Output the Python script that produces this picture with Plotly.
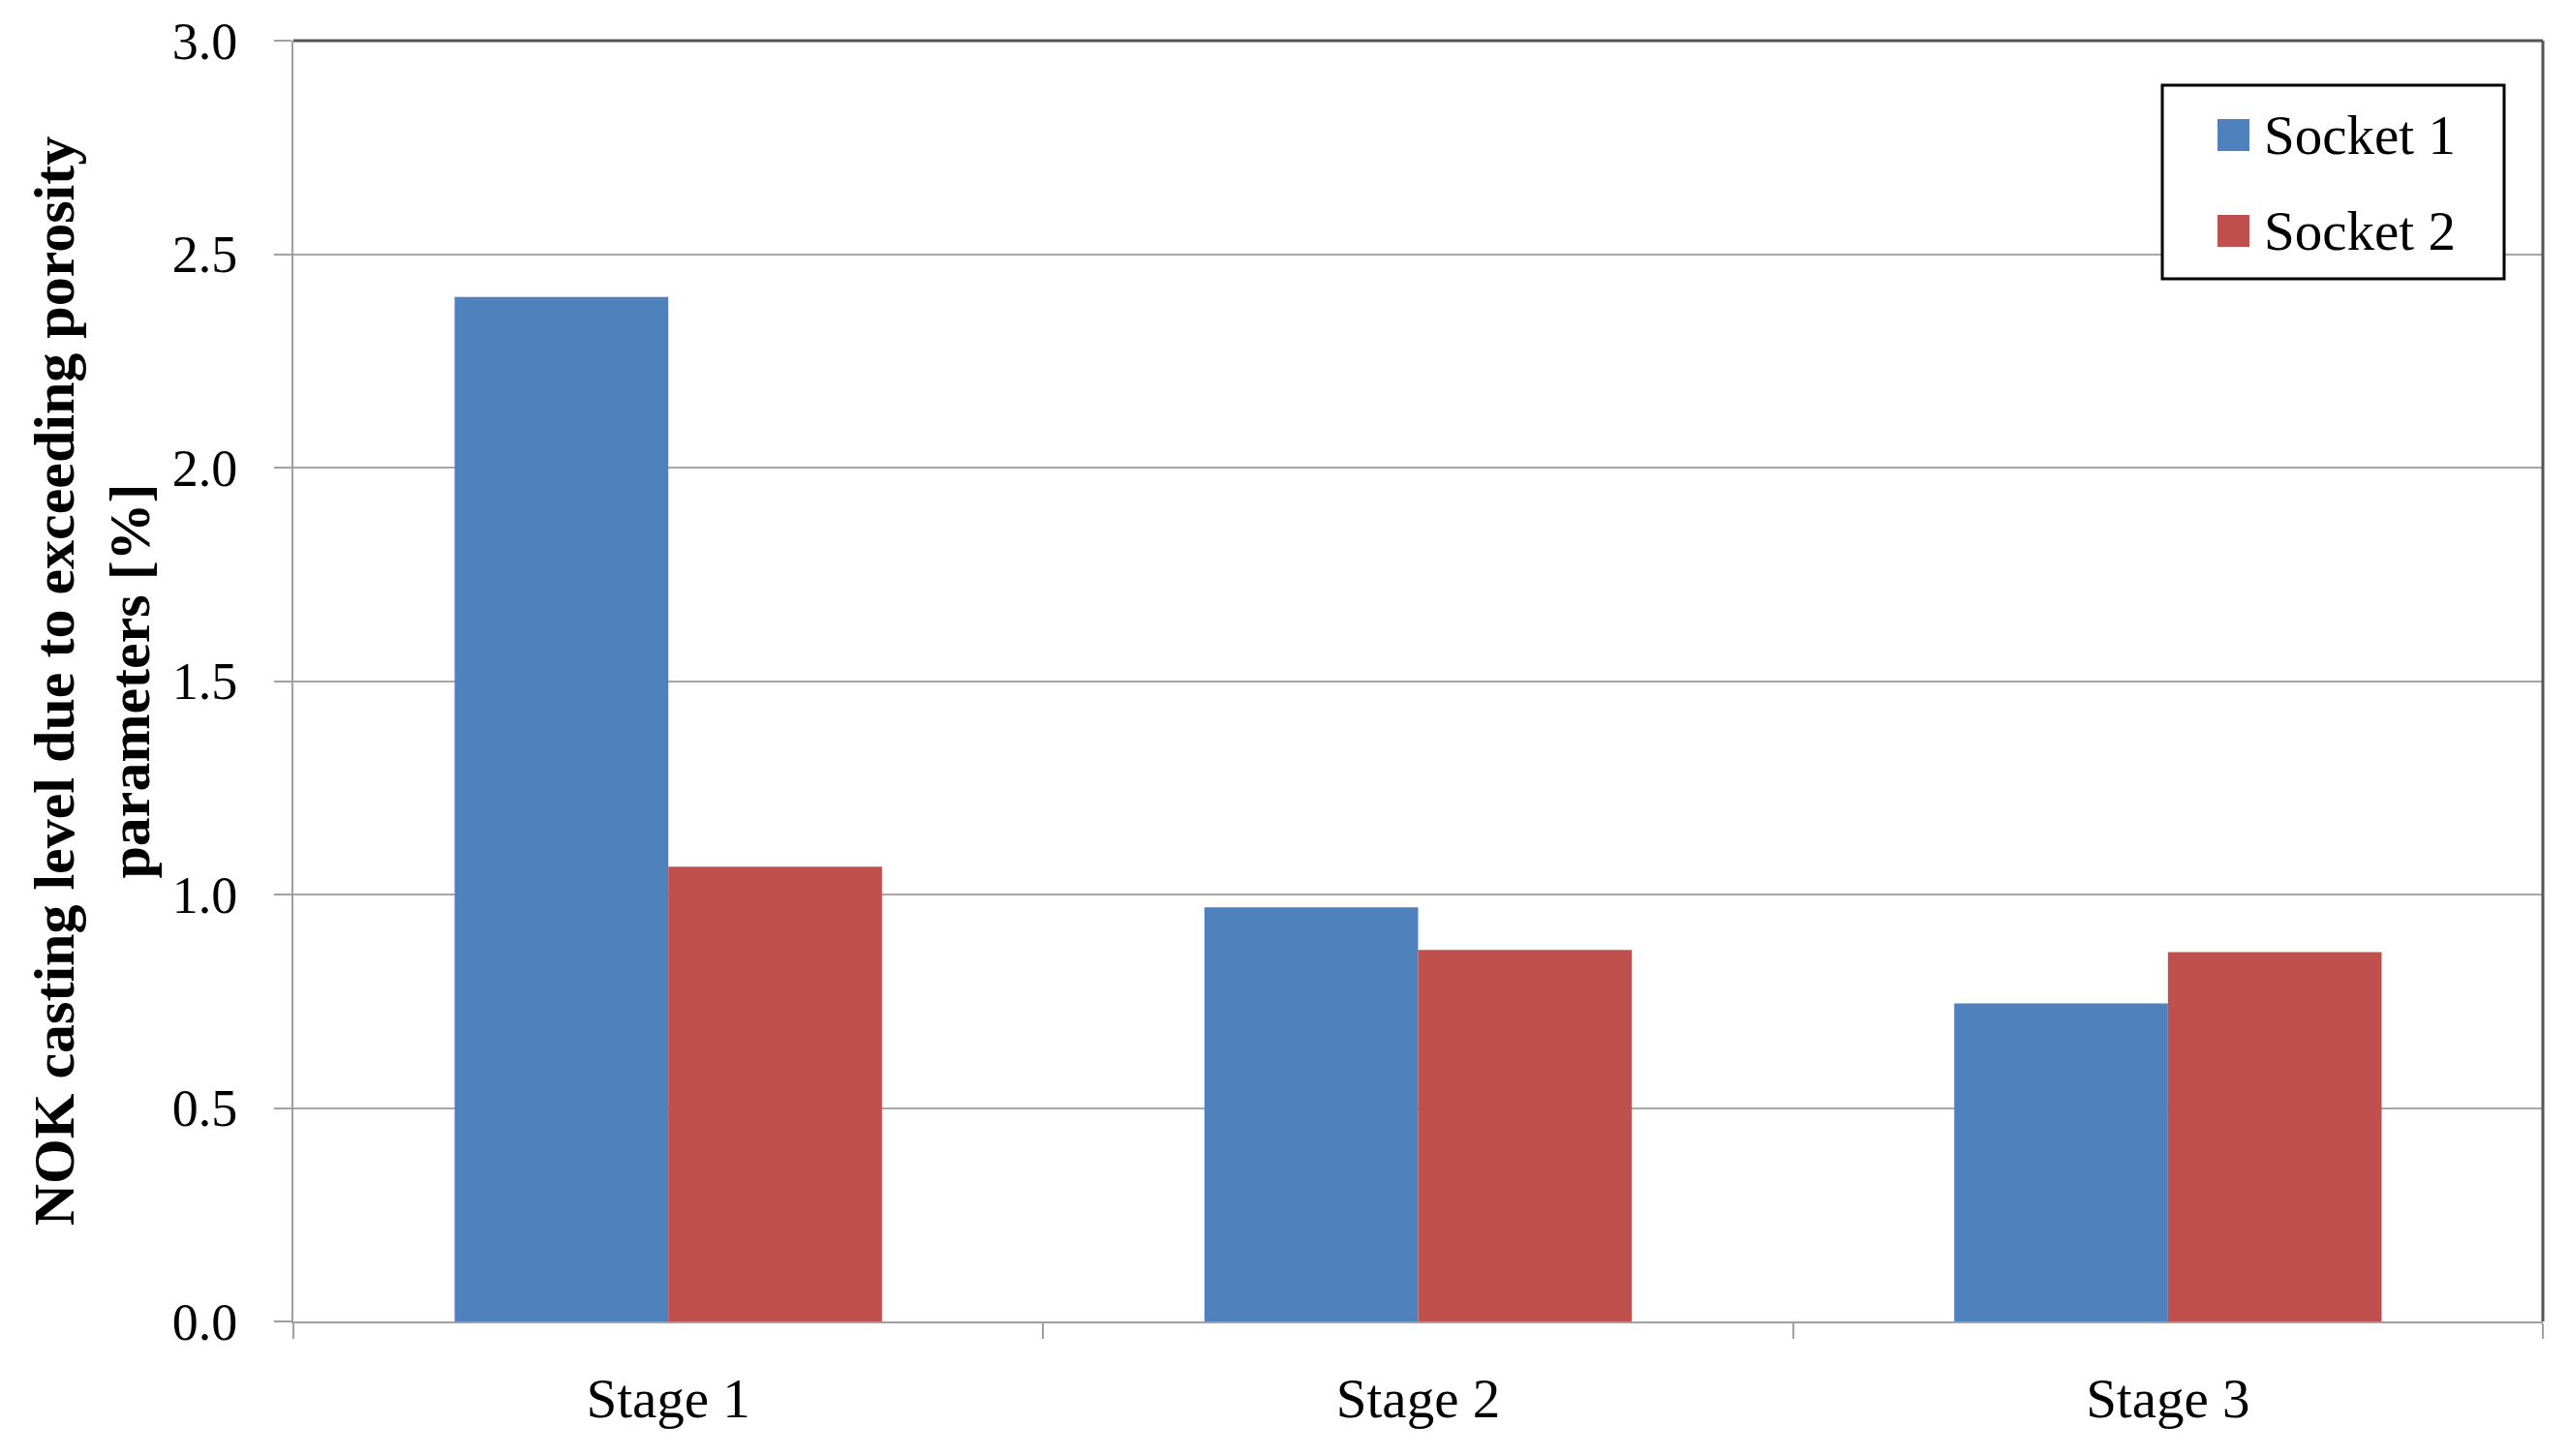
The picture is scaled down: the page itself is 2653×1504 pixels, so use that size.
import plotly.graph_objects as go

stages = ["Stage 1", "Stage 2", "Stage 3"]
socket1 = [2.40, 0.97, 0.745]
socket2 = [1.065, 0.87, 0.865]
series_names = ["Socket 1", "Socket 2"]
series_colors = ["#4F81BD", "#C0504D"]
y_ticks = [0.0, 0.5, 1.0, 1.5, 2.0, 2.5, 3.0]
y_tick_labels = ["0.0", "0.5", "1.0", "1.5", "2.0", "2.5", "3.0"]

FONT = "Liberation Serif"

fig = go.Figure()
for name, vals, col in zip(series_names, [socket1, socket2], series_colors):
    fig.add_trace(go.Bar(x=stages, y=vals, name=name, marker_color=col,
                         marker_line_width=0, showlegend=False))

fig.update_layout(
    width=2653, height=1504,
    paper_bgcolor="white", plot_bgcolor="white",
    margin=dict(l=295, r=35, t=34, b=147),
    barmode="group", bargap=0.43, bargroupgap=0,
    font=dict(family=FONT, size=54, color="black"),
    xaxis=dict(showgrid=False, showline=True, linecolor="#a0a0a0", linewidth=2,
               ticks="outside", tickson="boundaries", ticklen=16, tickcolor="#a0a0a0",
               tickwidth=2, ticklabelstandoff=29, tickfont=dict(size=57),
               automargin=False),
    yaxis=dict(range=[0, 3.0001], tickvals=y_ticks, ticktext=y_tick_labels,
               showgrid=True, gridcolor="#a6a6a6", gridwidth=2,
               showline=True, linecolor="#a0a0a0", linewidth=2,
               ticks="outside", ticklen=18, tickcolor="#a0a0a0", tickwidth=2,
               ticklabelstandoff=27, tickfont=dict(size=54), zeroline=False,
               automargin=False,
               title=dict(text="<b>NOK casting level due to exceeding porosity<br>parameters [%]</b>",
                          font=dict(family=FONT, size=60), standoff=4)),
)

# plot-area border (top and right)
fig.add_shape(type="line", xref="x domain", yref="y domain", x0=0, x1=1, y0=1, y1=1,
              line=dict(color="#555555", width=3))
fig.add_shape(type="line", xref="x domain", yref="y domain", x0=1, x1=1, y0=0, y1=1,
              line=dict(color="#555555", width=3))

# legend drawn manually (large square swatches), positioned relative to plot area
W, H = 2626 - 303, 1365 - 42
def px(x): return (x - 303) / W
def py(y): return (1365 - y) / H

fig.add_shape(type="rect", xref="x domain", yref="y domain",
              x0=px(2233), x1=px(2586), y0=py(288), y1=py(88),
              line=dict(color="black", width=3), fillcolor="white", layer="above")
for i, (name, col) in enumerate(zip(series_names, series_colors)):
    top = 123 + i * 99
    fig.add_shape(type="rect", xref="x domain", yref="y domain",
                  x0=px(2290), x1=px(2323), y0=py(top + 33), y1=py(top),
                  line=dict(width=0), fillcolor=col, layer="above")
    fig.add_annotation(xref="x domain", yref="y domain", x=px(2336), y=py(top + 16),
                       text=name, showarrow=False, xanchor="left", yanchor="middle",
                       font=dict(family=FONT, size=57, color="black"))

fig.write_html("out.html")
